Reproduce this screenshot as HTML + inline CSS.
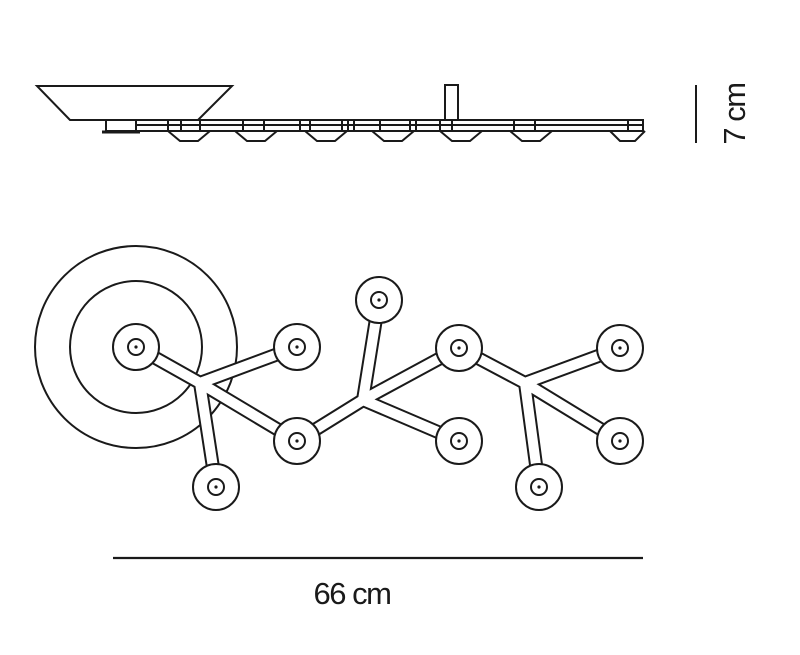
<!DOCTYPE html>
<html><head><meta charset="utf-8"><style>html,body{margin:0;padding:0;background:#fff}svg{display:block}</style></head>
<body>
<svg width="800" height="655" viewBox="0 0 800 655" xmlns="http://www.w3.org/2000/svg">
<g fill="none" stroke="#1a1a1a" stroke-width="2">
  <polygon points="37,86 232,86 198,120 70,120" fill="#fff"/>
  <rect x="106" y="120" width="537" height="11"/>
  <line x1="136" y1="125" x2="643" y2="125"/>
  <line x1="136" y1="120" x2="136" y2="131"/>
  <line x1="168" y1="120" x2="168" y2="131"/>
  <line x1="200" y1="120" x2="200" y2="131"/>
  <line x1="181" y1="120" x2="181" y2="131"/>
  <line x1="243" y1="120" x2="243" y2="131"/>
  <line x1="264" y1="120" x2="264" y2="131"/>
  <line x1="300" y1="120" x2="300" y2="131"/>
  <line x1="310" y1="120" x2="310" y2="131"/>
  <line x1="342" y1="120" x2="342" y2="131"/>
  <line x1="348" y1="120" x2="348" y2="131"/>
  <line x1="354" y1="120" x2="354" y2="131"/>
  <line x1="380" y1="120" x2="380" y2="131"/>
  <line x1="410" y1="120" x2="410" y2="131"/>
  <line x1="416" y1="120" x2="416" y2="131"/>
  <line x1="440" y1="120" x2="440" y2="131"/>
  <line x1="452" y1="120" x2="452" y2="131"/>
  <line x1="514" y1="120" x2="514" y2="131"/>
  <line x1="535" y1="120" x2="535" y2="131"/>
  <line x1="628" y1="120" x2="628" y2="131"/>
  <polyline points="168,131 180,141 198,141 210,131"/>
  <polyline points="235,131 247,141 265,141 277,131"/>
  <polyline points="305,131 317,141 335,141 347,131"/>
  <polyline points="372,131 384,141 402,141 414,131"/>
  <polyline points="440,131 452,141 470,141 482,131"/>
  <polyline points="510,131 522,141 540,141 552,131"/>
  <polyline points="610,131 620,141 635,141 645,131"/>
  <rect x="445" y="85" width="13" height="35"/>
  <line x1="102" y1="132" x2="140" y2="132" stroke-width="3"/>
  <line x1="696" y1="85" x2="696" y2="143"/>
  <line x1="113" y1="558" x2="643" y2="558" stroke-width="2.2"/>
  <circle cx="136" cy="347" r="101"/>
  <circle cx="136" cy="347" r="66"/>
</g>
<g stroke-linecap="round" stroke-linejoin="round" fill="none">
  <g stroke="#1a1a1a" stroke-width="14">
    <path d="M136,347 L200,383 L297,347 M200,383 L216,487 M200,383 L297,441"/>
    <path d="M379,300 L363,400 L297,441 M363,400 L459,348 M363,400 L459,441"/>
    <path d="M459,348 L525,383 L620,348 M525,383 L539,487 M525,383 L620,441"/>
  </g>
  <g stroke="#fff" stroke-width="10">
    <path d="M136,347 L200,383 L297,347 M200,383 L216,487 M200,383 L297,441"/>
    <path d="M379,300 L363,400 L297,441 M363,400 L459,348 M363,400 L459,441"/>
    <path d="M459,348 L525,383 L620,348 M525,383 L539,487 M525,383 L620,441"/>
  </g>
</g>
<g stroke="#1a1a1a" stroke-width="2" fill="#fff">
  <circle cx="136" cy="347" r="23"/><circle cx="136" cy="347" r="8"/>
  <circle cx="297" cy="347" r="23"/><circle cx="297" cy="347" r="8"/>
  <circle cx="379" cy="300" r="23"/><circle cx="379" cy="300" r="8"/>
  <circle cx="459" cy="348" r="23"/><circle cx="459" cy="348" r="8"/>
  <circle cx="620" cy="348" r="23"/><circle cx="620" cy="348" r="8"/>
  <circle cx="297" cy="441" r="23"/><circle cx="297" cy="441" r="8"/>
  <circle cx="459" cy="441" r="23"/><circle cx="459" cy="441" r="8"/>
  <circle cx="620" cy="441" r="23"/><circle cx="620" cy="441" r="8"/>
  <circle cx="216" cy="487" r="23"/><circle cx="216" cy="487" r="8"/>
  <circle cx="539" cy="487" r="23"/><circle cx="539" cy="487" r="8"/>
</g>
<g fill="#1a1a1a">
  <circle cx="136" cy="347" r="1.6"/><circle cx="297" cy="347" r="1.6"/><circle cx="379" cy="300" r="1.6"/>
  <circle cx="459" cy="348" r="1.6"/><circle cx="620" cy="348" r="1.6"/><circle cx="297" cy="441" r="1.6"/>
  <circle cx="459" cy="441" r="1.6"/><circle cx="620" cy="441" r="1.6"/><circle cx="216" cy="487" r="1.6"/>
  <circle cx="539" cy="487" r="1.6"/>
</g>
<g font-family="Liberation Sans, sans-serif" fill="#1a1a1a">
  <text x="352" y="604" font-size="31" text-anchor="middle" letter-spacing="-1.5">66 cm</text>
  <text transform="translate(745,114) rotate(-90)" font-size="31" text-anchor="middle" letter-spacing="-1.5">7 cm</text>
</g>
</svg>
</body></html>
